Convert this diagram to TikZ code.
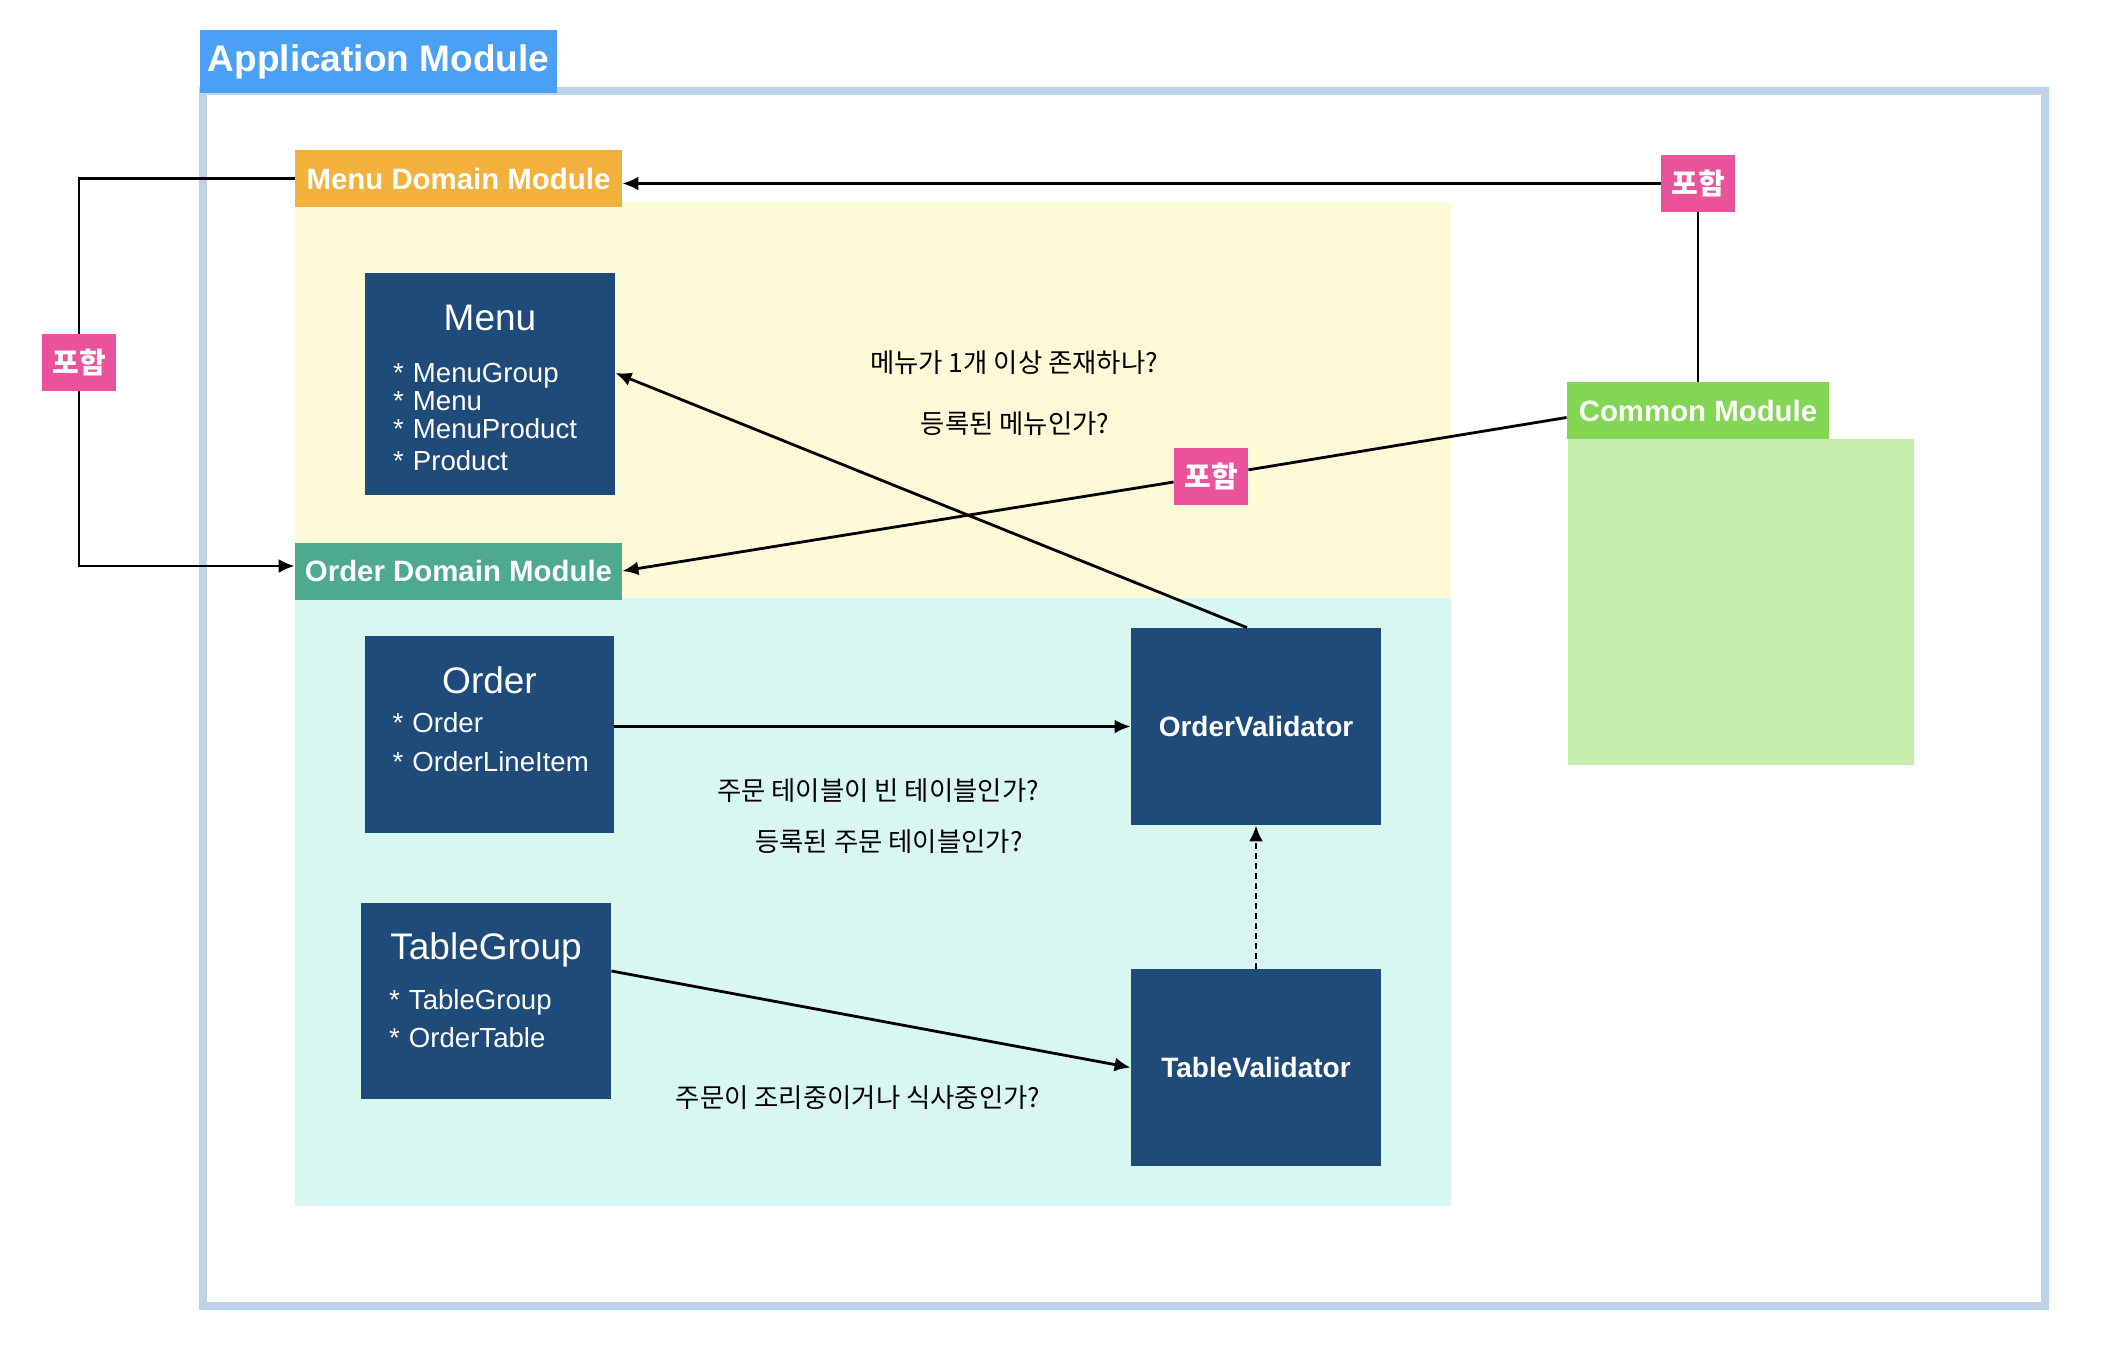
\documentclass[tikz,border=0pt]{standalone}
\usepackage{fontspec}
\setmainfont{Liberation Sans}
\newfontfamily\krfont{Noto Sans CJK KR}
\usetikzlibrary{arrows.meta,positioning}

\definecolor{appblue}{RGB}{74,160,245}
\definecolor{framecol}{RGB}{190,211,232}
\definecolor{menuorange}{RGB}{242,177,60}
\definecolor{menubg}{RGB}{254,249,214}
\definecolor{orderteal}{RGB}{78,170,142}
\definecolor{orderbg}{RGB}{216,247,241}
\definecolor{navy}{RGB}{31,75,122}
\definecolor{commongreen}{RGB}{130,214,84}
\definecolor{commonbg}{RGB}{197,237,172}
\definecolor{inclpink}{RGB}{234,82,155}

\newcommand{\boxtitle}[1]{\makebox[97pt]{\fontsize{18.5}{18.5}\selectfont #1}}

\begin{document}
\begin{tikzpicture}[x=0.5pt, y=-0.5pt, >={Latex[length=8pt,width=7pt]},
    conn/.style={line width=1.4pt},
    modlabel/.style={text=white, font=\bfseries\fontsize{14.7}{16}\selectfont,
                     inner sep=0pt, minimum width=163.5pt, minimum height=28.5pt},
    classbox/.style={fill=navy, inner sep=0pt, minimum width=124.5pt, minimum height=98.5pt},
    classtext/.style={text=white, inner sep=0pt, anchor=north west, align=left,
                      text width=120pt, font=\fontsize{13.8}{14}\selectfont},
    validator/.style={fill=navy, text=white, font=\bfseries\fontsize{14}{16}\selectfont,
                      inner sep=0pt, minimum width=125pt, minimum height=98.5pt},
    incl/.style={fill=inclpink, text=white, font=\krfont\bfseries\fontsize{14.5}{16}\selectfont,
                 inner sep=0pt, minimum width=37pt, minimum height=28.5pt},
    question/.style={font=\krfont\fontsize{13.2}{15}\selectfont}]

  \fill[white] (0,0) rectangle (2116,1348);
  \useasboundingbox (0,0) rectangle (2116,1348);

  \fill[menubg] (295,202) rectangle (1451,598);
  \fill[orderbg] (295,598) rectangle (1451,1206);
  \fill[commonbg] (1568,439) rectangle (1914,765);
  \draw[framecol, line width=4pt] (203,91) rectangle (2045,1306);

  \node[fill=appblue, text=white, font=\bfseries\fontsize{18.5}{20}\selectfont, inner sep=0pt,
        minimum width=178.5pt, minimum height=31.5pt] (app) at (378.5,61.5) {Application Module};

  \node[modlabel, fill=menuorange] (menudom) at (458.5,178.5) {Menu Domain Module};
  \node[modlabel, fill=orderteal] (orderdom) at (458.5,571) {Order Domain Module};
  \node[modlabel, fill=commongreen, minimum width=131pt] (common) at (1698,410.5) {Common Module};

  \node[classbox, minimum width=125pt, minimum height=111pt] (menu) at (490,384) {};
  \node[classtext] (menutxt) at ([xshift=14pt,yshift=-16pt]menu.north west)
    {\boxtitle{Menu}\\[12pt]
     * MenuGroup\\[0pt]
     * Menu\\[0pt]
     * MenuProduct\\[2pt]
     * Product};

  \node[classbox] (order) at (489,734.5) {};
  \node[classtext] (ordertxt) at ([xshift=14pt,yshift=-15.5pt]order.north west)
    {\boxtitle{Order}\\[5.5pt]
     * Order\\[5.5pt]
     * OrderLineItem};

  \node[classbox, minimum width=125pt, minimum height=98pt] (tg) at (486,1001) {};
  \node[classtext] (tgtxt) at ([xshift=14pt,yshift=-15pt]tg.north west)
    {\boxtitle{TableGroup}\\[11pt]
     * TableGroup\\[5pt]
     * OrderTable};

  \node[validator] (ordval) at (1256,726.5) {OrderValidator};
  \node[validator] (tblval) at (1256,1067.5) {TableValidator};

  \node[incl] (incl1) at (79,362.5) {포함};
  \node[incl] (incl2) at (1698,183.5) {포함};
  \node[incl] (incl3) at (1211,476) {포함};

  \node[question] (q1) at (1014,363) {메뉴가 1개 이상 존재하나?};
  \node[question] (q2) at (1015,424) {등록된 메뉴인가?};
  \node[question] (q3) at (878,791) {주문 테이블이 빈 테이블인가?};
  \node[question] (q4) at (889,842) {등록된 주문 테이블인가?};
  \node[question] (q5) at (858,1098) {주문이 조리중이거나 식사중인가?};

  \draw[conn,->] (menudom.west) -| (incl1) |- ([yshift=2.5pt]orderdom.west);
  \draw[conn,->] (incl2.west) -- (incl2.west -| menudom.east);
  \draw[conn] (incl2) -- (common);
  \draw[conn,->] ([yshift=-3.5pt]common.west) -- (incl3) -- (orderdom.east);
  \draw[conn,->] ([xshift=-4.5pt]ordval.north) -- ([yshift=5.5pt]menu.east);
  \draw[conn,->] (order.east |- ordval.west) -- (ordval.west);
  \draw[conn,->] ([yshift=15pt]tg.east) -- (tblval.west);
  \draw[conn,->,dash pattern=on 3pt off 2pt] (tblval) -- (ordval);
\end{tikzpicture}
\end{document}
